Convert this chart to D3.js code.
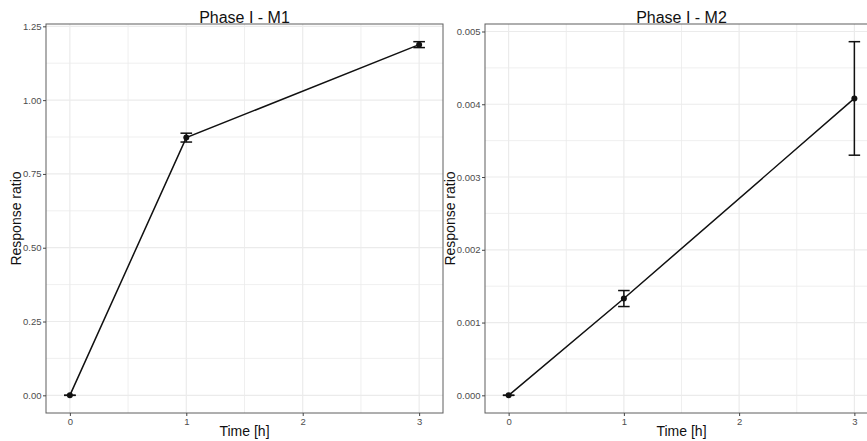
<!DOCTYPE html>
<meta charset="utf-8">
<style>
  body { margin: 0; background: #fff; }
  svg { display: block; font-family: "Liberation Sans", Arial, sans-serif; }
  .grid line { stroke: #ebebeb; }
  .tick-label { fill: #4d4d4d; font-size: 9.5px; }
</style>
<svg width="867" height="441"></svg>
<script src="https://cdn.jsdelivr.net/npm/d3@7"></script>
<script>
// data
const times = [0, 1, 3]
const m1Mean = [0, 0.873, 1.188]
const m1Err = [0, 0.015, 0.010]
const m2Mean = [0, 0.00133, 0.00408]
const m2Err = [0, 0.00011, 0.00078]
const xTicks = [0, 1, 2, 3]
const m1Ticks = [0, 0.25, 0.5, 0.75, 1.0, 1.25]
const m2Ticks = [0, 0.001, 0.002, 0.003, 0.004, 0.005]

const svg = d3.select("svg")
const plotTop = 24, plotBottom = 413
const capW = 0.1

const drawPanel = (opts) => {
  const { x0, x1, mean, err, yTicks, fmt, title, ylabX } = opts
  const rows = times.map((t, i) => ({ t, m: mean[i], e: err[i] }))

  // ggplot-like expansion: errorbar width widens x range, 5% padding both axes
  const xr = [d3.min(times) - capW / 2, d3.max(times) + capW / 2]
  const xp = (xr[1] - xr[0]) * 0.05
  const yr = [d3.min(rows, d => d.m - d.e), d3.max(rows, d => d.m + d.e)]
  const yp = (yr[1] - yr[0]) * 0.05

  const x = d3.scaleLinear().domain([xr[0] - xp, xr[1] + xp]).range([x0, x1])
  const y = d3.scaleLinear().domain([yr[0] - yp, yr[1] + yp]).range([plotBottom, plotTop])

  const g = svg.append("g")

  // minor + major grid
  const step = yTicks[1] - yTicks[0]
  const yMinor = yTicks.map(v => v + step / 2).concat([yTicks[0] - step / 2])
    .filter(v => v > y.domain()[0] && v < y.domain()[1])
  const xMinor = xTicks.slice(0, -1).map(v => v + 0.5)

  const grid = g.append("g").attr("class", "grid")
  grid.selectAll("line.ymin").data(yMinor).join("line")
    .attr("x1", x0).attr("x2", x1)
    .attr("y1", d => y(d)).attr("y2", d => y(d))
    .attr("stroke-width", 0.8)
  grid.selectAll("line.xmin").data(xMinor).join("line")
    .attr("x1", d => x(d)).attr("x2", d => x(d))
    .attr("y1", plotTop).attr("y2", plotBottom)
    .attr("stroke-width", 0.8)
  grid.selectAll("line.ymaj").data(yTicks).join("line")
    .attr("x1", x0).attr("x2", x1)
    .attr("y1", d => y(d)).attr("y2", d => y(d))
    .attr("stroke-width", 1.2)
  grid.selectAll("line.xmaj").data(xTicks).join("line")
    .attr("x1", d => x(d)).attr("x2", d => x(d))
    .attr("y1", plotTop).attr("y2", plotBottom)
    .attr("stroke-width", 1.2)

  // line through means
  g.append("path")
    .datum(rows)
    .attr("fill", "none")
    .attr("stroke", "#111")
    .attr("stroke-width", 1.5)
    .attr("d", d3.line().x(d => x(d.t)).y(d => y(d.m)))

  // error bars
  const eb = g.append("g").attr("stroke", "#111").attr("stroke-width", 1.5)
  eb.selectAll("line.v").data(rows).join("line")
    .attr("x1", d => x(d.t)).attr("x2", d => x(d.t))
    .attr("y1", d => y(d.m - d.e)).attr("y2", d => y(d.m + d.e))
  eb.selectAll("line.top").data(rows).join("line")
    .attr("x1", d => x(d.t - capW / 2)).attr("x2", d => x(d.t + capW / 2))
    .attr("y1", d => y(d.m + d.e)).attr("y2", d => y(d.m + d.e))
  eb.selectAll("line.bot").data(rows).join("line")
    .attr("x1", d => x(d.t - capW / 2)).attr("x2", d => x(d.t + capW / 2))
    .attr("y1", d => y(d.m - d.e)).attr("y2", d => y(d.m - d.e))

  // points
  g.selectAll("circle").data(rows).join("circle")
    .attr("cx", d => x(d.t)).attr("cy", d => y(d.m))
    .attr("r", 3).attr("fill", "#111")

  // panel border
  g.append("rect")
    .attr("x", x0).attr("y", plotTop)
    .attr("width", x1 - x0).attr("height", plotBottom - plotTop)
    .attr("fill", "none").attr("stroke", "#5e5e5e").attr("stroke-width", 1)

  // axes
  const yAxis = g.append("g").attr("transform", `translate(${x0},0)`)
    .call(d3.axisLeft(y).tickValues(yTicks).tickFormat(d3.format(fmt)).tickSize(3).tickPadding(1.5))
  const xAxis = g.append("g").attr("transform", `translate(0,${plotBottom})`)
    .call(d3.axisBottom(x).tickValues(xTicks).tickFormat(d3.format("d")).tickSize(3).tickPadding(2))
  for (const a of [yAxis, xAxis]) {
    a.select(".domain").remove()
    a.selectAll(".tick line").attr("stroke", "#444")
    a.selectAll(".tick text").attr("class", "tick-label").attr("fill", "#4d4d4d")
    a.attr("font-family", null).attr("font-size", null)
  }

  const cx = (x0 + x1) / 2
  g.append("text").attr("x", cx).attr("y", 22.5)
    .attr("text-anchor", "middle").attr("font-size", 16).attr("fill", "#111")
    .text(title)
  g.append("text").attr("x", cx).attr("y", 436)
    .attr("text-anchor", "middle").attr("font-size", 14).attr("fill", "#111")
    .text("Time [h]")
  g.append("text")
    .attr("transform", `translate(${ylabX},${(plotTop + plotBottom) / 2}) rotate(-90)`)
    .attr("text-anchor", "middle").attr("font-size", 14).attr("fill", "#111")
    .text("Response ratio")
}

drawPanel({ x0: 46, x1: 443, mean: m1Mean, err: m1Err, yTicks: m1Ticks, fmt: ".2f", title: "Phase I - M1", ylabX: 21 })
drawPanel({ x0: 485, x1: 878, mean: m2Mean, err: m2Err, yTicks: m2Ticks, fmt: ".3f", title: "Phase I - M2", ylabX: 455 })
</script>
